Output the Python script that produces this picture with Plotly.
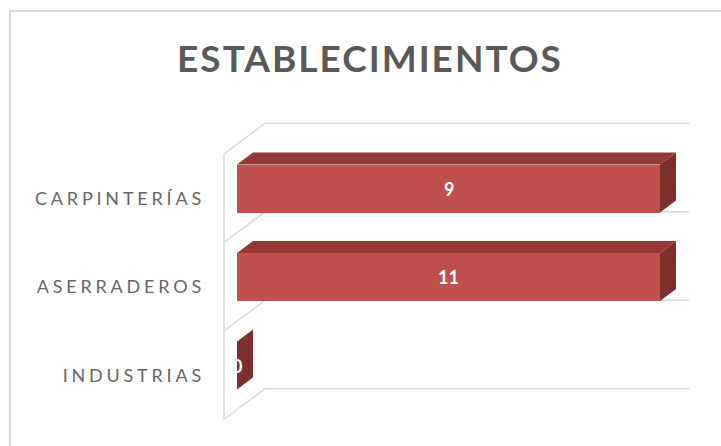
import plotly.graph_objects as go

# ---------------- data ----------------
TITLE = "ESTABLECIMIENTOS"
CATEGORIES = ["CARPINTERÍAS", "ASERRADEROS", "INDUSTRIAS"]   # top -> bottom
VALUES = [9, 11, 0]
AXIS_MAX = 9          # fixed value-axis maximum; longer bars are cut there

# ---------------- style ----------------
FRONT = "#C0504D"
TOP = "#943735"
SIDE = "#7D302E"
WALL = "#D9D9D9"
TEXT = "#595959"
FONT = "Lato"

W, H = 721, 446
ML, MR, MT, MB = 214, 21, 110, 14
PX_X = 47.0      # px per value unit
PX_Y = 88.5      # px per category step
X0PX = 237.0     # px of value 0 (bar front)
Y0PX = 365.5     # px of bottom category centre (bar front)

xr = [(ML - X0PX) / PX_X, (W - MR - X0PX) / PX_X]
yr = [(Y0PX - (H - MB)) / PX_Y, (Y0PX - MT) / PX_Y]

BAR_W = 48 / PX_Y           # bar thickness in category units
DX = 16 / PX_X              # bar depth (x shift)
DY = 12 / PX_Y              # bar depth (y shift)
WF_X = -13 / PX_X           # wall front edge x
WB_X = 28 / PX_X            # wall back edge x
WF_DY = -9.75 / PX_Y        # wall front y shift
WB_DY = 21 / PX_Y           # wall back y shift
GRID_END = (689 - X0PX) / PX_X

n = len(CATEGORIES)
ypos = [n - 1 - i for i in range(n)]
shown = [min(v, AXIS_MAX) for v in VALUES]

fig = go.Figure()
shapes = []

# side wall + floor/back gridlines at category boundaries
bounds = [k - 0.5 for k in range(n + 1)]
for b in bounds:
    shapes.append(dict(type="line", xref="x", yref="y", layer="below",
                       x0=WF_X, y0=b + WF_DY, x1=WB_X, y1=b + WB_DY,
                       line=dict(color=WALL, width=1.5)))
    shapes.append(dict(type="line", xref="x", yref="y", layer="below",
                       x0=WB_X, y0=b + WB_DY, x1=GRID_END, y1=b + WB_DY,
                       line=dict(color=WALL, width=1.5)))
shapes.append(dict(type="line", xref="x", yref="y", layer="below",
                   x0=WF_X, y0=bounds[0] + WF_DY, x1=WF_X, y1=bounds[-1] + WF_DY,
                   line=dict(color=WALL, width=1.5)))

# outer chart border
def px2paper_x(p):
    return (p - ML) / (W - ML - MR)

def px2paper_y(p):
    return ((H - MB) - p) / (H - MT - MB)

shapes.append(dict(type="rect", xref="paper", yref="paper", layer="below",
                   x0=px2paper_x(10), y0=px2paper_y(11),
                   x1=px2paper_x(730), y1=px2paper_y(460),
                   line=dict(color=WALL, width=2), fillcolor="rgba(0,0,0,0)"))

# 3D faces (top and side) of each bar
for y, v in zip(ypos, shown):
    yt = y + BAR_W / 2
    yb = y - BAR_W / 2
    # top face
    fig.add_trace(go.Scatter(
        x=[0, v, v + DX, DX, 0], y=[yt, yt, yt + DY, yt + DY, yt],
        mode="lines", fill="toself", fillcolor=TOP, line=dict(width=0, color=TOP),
        hoverinfo="skip", showlegend=False))
    # side face
    fig.add_trace(go.Scatter(
        x=[v, v + DX, v + DX, v, v], y=[yb, yb + DY, yt + DY, yt, yb],
        mode="lines", fill="toself", fillcolor=SIDE, line=dict(width=0, color=SIDE),
        hoverinfo="skip", showlegend=False))

# front faces
fig.add_trace(go.Bar(
    x=shown, y=ypos, orientation="h", width=BAR_W,
    marker=dict(color=FRONT, line=dict(width=0)),
    hoverinfo="skip", showlegend=False))

annotations = []
for y, v, s in zip(ypos, VALUES, shown):
    annotations.append(dict(x=s / 2, y=y, xref="x", yref="y", text=str(v),
                            showarrow=False,
                            font=dict(family=FONT, size=18, color="white", weight="bold")))

fig.update_layout(
    width=W, height=H,
    margin=dict(l=ML, r=MR, t=MT, b=MB),
    paper_bgcolor="white", plot_bgcolor="rgba(0,0,0,0)",
    hovermode=False,
    title=dict(text=TITLE, x=370 / W, xanchor="center", y=1 - 59 / H, yanchor="middle",
               font=dict(family=FONT, size=37, color=TEXT, weight="bold")),
    xaxis=dict(range=xr, showgrid=False, zeroline=False, showline=False,
               showticklabels=False, fixedrange=True),
    yaxis=dict(range=yr, showgrid=False, zeroline=False, showline=False,
               tickmode="array", tickvals=ypos, ticktext=CATEGORIES,
               ticks="", ticklabelshift=10, ticklabelstandoff=8,
               tickfont=dict(family=FONT, size=18, color="#666666"), fixedrange=True),
    shapes=shapes, annotations=annotations, bargap=0,
)

css = ("html,body{margin:0;padding:0;}"
       ".ytick text{letter-spacing:3.8px;}"
       ".gtitle{letter-spacing:2px;}")
post = ("var s=document.createElement('style');s.innerHTML='" + css + "';"
        "document.head.appendChild(s);")

fig.write_html("out.html", post_script=post,
               config={"displayModeBar": False, "staticPlot": True})
